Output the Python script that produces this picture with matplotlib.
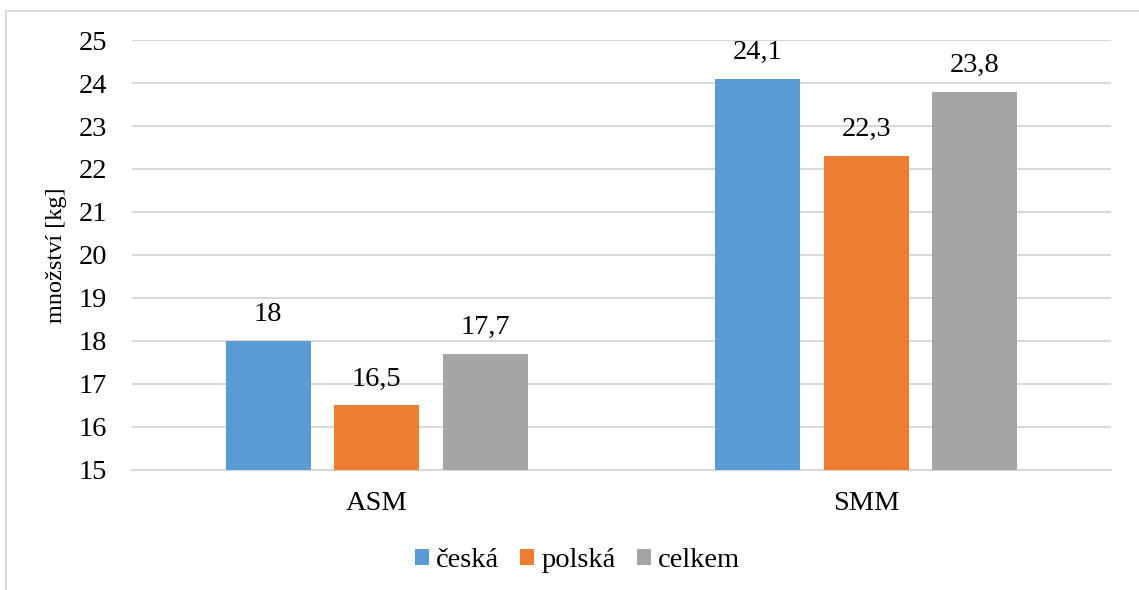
import numpy as np
import matplotlib
matplotlib.use("Agg")
from matplotlib import pyplot as plt
from matplotlib.patches import Rectangle

# values per group and series
categories = ["ASM", "SMM"]
series = ["česká", "polská", "celkem"]
ceska = [18.0, 24.1]
polska = [16.5, 22.3]
celkem = [17.7, 23.8]
value_labels = [["18", "24,1"], ["16,5", "22,3"], ["17,7", "23,8"]]
y_ticks = list(range(15, 26))

colors = ["#5B9BD5", "#ED7D31", "#A5A5A5"]
grid_color = "#D9D9D9"

plt.rcParams["font.family"] = ["Liberation Serif", "DejaVu Serif"]

fig = plt.figure(figsize=(11.39, 5.90), dpi=100)
ax = fig.add_axes([0.1159, 0.2034, 0.8595, 0.7288])

# light frame around the whole chart
fig.patches.append(Rectangle((6 / 1139, -0.1), 1.2, 1 - 11 / 590 + 0.1,
                             transform=fig.transFigure, fill=False,
                             edgecolor=grid_color, linewidth=1.5))

x = np.arange(len(categories))
width = 0.174
step = 0.2217
for i, (name, vals) in enumerate(zip(series, [ceska, polska, celkem])):
    pos = x + (i - 1) * step
    ax.bar(pos, np.array(vals) - 15, width, bottom=15,
           color=colors[i], label=name, zorder=3)
    for xp, v, txt in zip(pos, vals, value_labels[i]):
        ax.annotate(txt, (xp, v), xytext=(0, 10), textcoords="offset points",
                    ha="center", va="bottom", fontsize=20.5)

ax.set_xlim(-0.5, 1.5)
ax.set_ylim(15, 25)
ax.set_yticks(y_ticks)
ax.set_xticks(x)
ax.set_xticklabels(categories)
ax.tick_params(axis="both", length=0, labelsize=20.5)
ax.tick_params(axis="y", pad=18)
ax.tick_params(axis="x", pad=15)
ax.yaxis.grid(True, color=grid_color, linewidth=1.5, zorder=0)
for s in ["top", "right", "left"]:
    ax.spines[s].set_visible(False)
ax.spines["bottom"].set_color(grid_color)
ax.spines["bottom"].set_linewidth(1.5)
ax.set_ylabel("množství [kg]", fontsize=17.5, labelpad=8)

fig.legend(loc="center", bbox_to_anchor=(0.507, 0.050), ncol=3, frameon=False,
           fontsize=20.5, handlelength=0.48, handleheight=0.48, handletextpad=0.25,
           columnspacing=0.75)

fig.savefig("out.png", dpi=100)
